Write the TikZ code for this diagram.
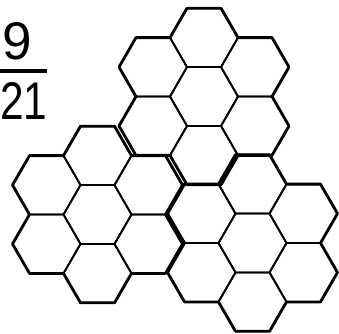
\documentclass[tikz,border=0pt]{standalone}
\usepackage{fontspec}
\setmainfont{Liberation Sans}
\usetikzlibrary{calc}
\tikzset{
  cellline/.style={line width=1.8pt, line join=round},
  outline/.style={line width=2.8pt, line join=round},
  digit/.style={inner sep=0pt, font=\fontsize{53}{53}\selectfont}
}
\newcommand\hexcell[1]{%
  \draw[cellline] ($(#1)+(0:34)$) -- ($(#1)+(60:34)$) -- ($(#1)+(120:34)$)
    -- ($(#1)+(180:34)$) -- ($(#1)+(240:34)$) -- ($(#1)+(300:34)$) -- cycle;}
\newcommand\hexflower[1]{%
  \hexcell{#1}%
  \foreach \k in {30,90,...,330}{%
    \coordinate (ring) at ($(#1)+(\k:58.89)$);
    \hexcell{ring}%
  }%
  \draw[outline] ($(#1)+(68,0)$)
    \foreach \k in {30,90,...,330}{
      -- ($(#1)+(\k:58.89)+(\k-30:34)$)
      -- ($(#1)+(\k:58.89)+(\k+30:34)$)
      -- ($(#1)+(\k:58.89)+(\k+90:34)$)
    } -- cycle;%
}
\begin{document}
\begin{tikzpicture}[x=1pt,y=-1pt]
  \useasboundingbox (0,0) rectangle (339,333);
  \coordinate (top) at (204,96.5);
  \coordinate (bleft) at (97.5,214.5);
  \coordinate (bright) at (252.5,243);
  \hexflower{top}
  \hexflower{bleft}
  \hexflower{bright}
  \node[digit] (num) at (17.5,41.5) {9};
  \node[digit] (den) at (23.8,101) {\scalebox{0.8}[1]{21}};
  \coordinate (barl) at (-2,71);
  \coordinate (barr) at (47,71);
  \draw[line width=3.6pt] (barl) -- (barr);
\end{tikzpicture}
\end{document}
